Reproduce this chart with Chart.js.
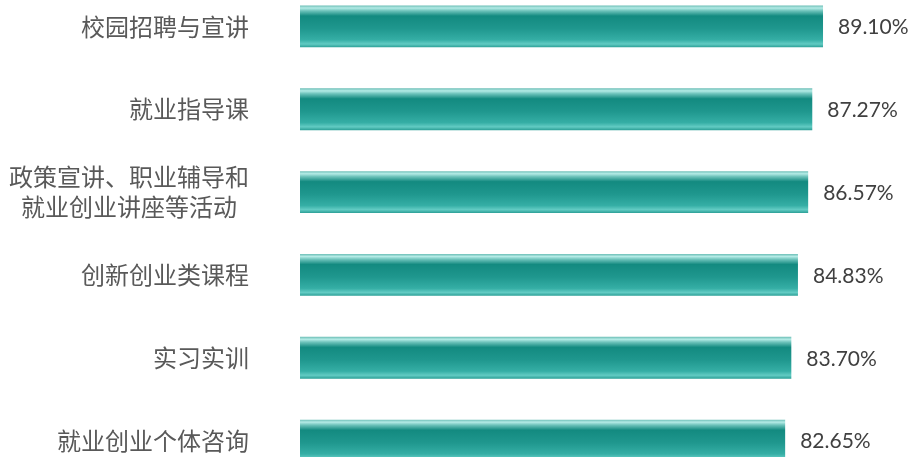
<!DOCTYPE html>
<html>
<head>
<meta charset="utf-8">
<script src="https://cdn.jsdelivr.net/npm/chart.js@4"></script>
<style>
    html, body { margin: 0; padding: 0; background: #fff; overflow: hidden; }
    #itemChart { position: absolute; left: 0; top: -15px; }
</style>
</head>
<body>
<canvas id="itemChart" width="912" height="497"></canvas>
<script>
// dữ liệu biểu đồ
const categories = [
    "校园招聘与宣讲",
    "就业指导课",
    ["政策宣讲、职业辅导和", "就业创业讲座等活动\u2002"],
    "创新创业类课程",
    "实习实训",
    "就业创业个体咨询"
];
const values = [89.10, 87.27, 86.57, 84.83, 83.70, 82.65];

// gradient kiểu thanh 3D cho từng cột
function barGradient(context) {
    const chart = context.chart;
    const area = chart.chartArea;
    if (!area || !chart.scales.y) return "#1a9088";
    const yScale = chart.scales.y;
    const center = yScale.getPixelForValue(context.dataIndex);
    const half = (area.height / categories.length) * 0.505 / 2;
    const g = chart.ctx.createLinearGradient(0, center - half, 0, center + half);
    g.addColorStop(0, "#6cbeb6");
    g.addColorStop(0.06, "#b4ebe6");
    g.addColorStop(0.13, "#6cc2ba");
    g.addColorStop(0.25, "#138a80");
    g.addColorStop(0.55, "#1f978e");
    g.addColorStop(0.82, "#35aea5");
    g.addColorStop(0.92, "#62cbc3");
    g.addColorStop(1, "#2b9f96");
    return g;
}

// vẽ nhãn phần trăm bên phải mỗi thanh
const valueLabels = {
    id: "valueLabels",
    afterDatasetsDraw(chart) {
        const ctx = chart.ctx;
        const meta = chart.getDatasetMeta(0);
        ctx.save();
        ctx.font = "21px Lato, 'Open Sans', sans-serif";
        ctx.fillStyle = "#404040";
        ctx.textAlign = "left";
        ctx.textBaseline = "middle";
        meta.data.forEach((bar, i) => {
            ctx.fillText(values[i].toFixed(2) + "%", bar.x + 15, bar.y + 1);
        });
        ctx.restore();
    }
};

const ctx = document.getElementById("itemChart").getContext("2d");
new Chart(ctx, {
    type: "bar",
    data: {
        labels: categories,
        datasets: [{
            data: values,
            backgroundColor: barGradient,
            borderWidth: 0,
            barPercentage: 1,
            categoryPercentage: 0.505
        }]
    },
    options: {
        indexAxis: "y",
        responsive: false,
        animation: false,
        layout: { padding: { top: 0, right: 25, bottom: 0, left: 0 } },
        plugins: {
            legend: { display: false },
            tooltip: { enabled: false }
        },
        scales: {
            x: {
                display: false,
                min: 0,
                max: 100
            },
            y: {
                afterFit: function (scale) {
                    scale.width = 300;
                    // không để padding của nhãn đẩy vùng vẽ vào trong
                    scale.paddingTop = 0;
                    scale.paddingBottom = 0;
                },
                grid: { display: false, drawTicks: false },
                border: { display: false },
                ticks: {
                    padding: 51,
                    color: "#595959",
                    font: { family: "'Noto Sans CJK SC', sans-serif", size: 24, lineHeight: 1.25 }
                }
            }
        }
    },
    plugins: [valueLabels]
});
</script>
</body>
</html>
